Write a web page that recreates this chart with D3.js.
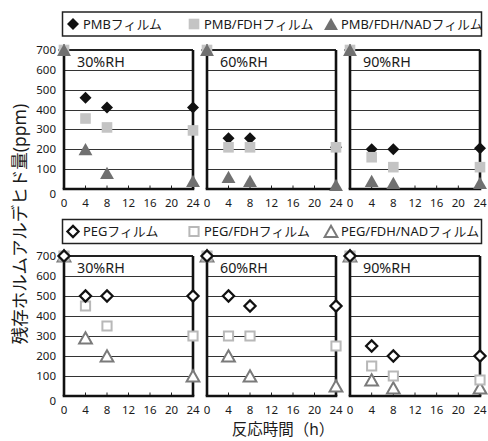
<!DOCTYPE html>
<html>
<head>
<meta charset="utf-8">
<script src="https://cdn.jsdelivr.net/npm/d3@7"></script>
<style>
  body { margin: 0; background: #fff; }
  svg text { font-family: "Noto Sans", "Noto Sans CJK JP", sans-serif; fill: #1a1a1a; }
</style>
</head>
<body>
<div id="svg-container"></div>
<script>
////////////////////////////  Data  ////////////////////////////////
const hours = [0, 4, 8, 24];
const humidities = ["30%RH", "60%RH", "90%RH"];
const xTicks = [0, 4, 8, 12, 16, 20, 24];
const yTicks = [0, 100, 200, 300, 400, 500, 600, 700];

// top group (PMB films), one array per humidity
const pmb = [[700, 460, 410, 410], [700, 255, 255, 210], [700, 200, 200, 205]];
const pmbFdh = [[700, 355, 310, 295], [700, 210, 210, 210], [700, 160, 110, 110]];
const pmbFdhNad = [[700, 200, 80, 40], [700, 60, 40, 20], [700, 40, 30, 30]];

// bottom group (PEG films)
const peg = [[700, 500, 500, 500], [700, 500, 450, 450], [700, 250, 200, 200]];
const pegFdh = [[700, 450, 350, 300], [700, 300, 300, 250], [700, 150, 100, 80]];
const pegFdhNad = [[700, 290, 200, 100], [700, 200, 100, 50], [700, 80, 40, 40]];

const topLegend = ["PMBフィルム", "PMB/FDHフィルム", "PMB/FDH/NADフィルム"];
const bottomLegend = ["PEGフィルム", "PEG/FDHフィルム", "PEG/FDH/NADフィルム"];

////////////////////////////  Init  ////////////////////////////////
const width = 488;
const height = 441;
const svg = d3.select("#svg-container").append("svg")
  .attr("width", width).attr("height", height);

const panelX = [[64, 193], [207, 336], [350, 480]];

// marker shapes
const shape = {
  diamond: (r) => `M0,${-r}L${r},0L0,${r}L${-r},0Z`,
  square: (r) => `M${-r},${-r}H${r}V${r}H${-r}Z`,
  triangle: (r) => `M0,${-r}L${r * 1.1},${r * 0.95}H${-r * 1.1}Z`
};

const topStyles = [
  { shape: "diamond", r: 6, fill: "#111", stroke: "none", sw: 0 },
  { shape: "square", r: 5.3, fill: "#c4c4c4", stroke: "none", sw: 0 },
  { shape: "triangle", r: 6.3, fill: "#707070", stroke: "none", sw: 0 }
];
const bottomStyles = [
  { shape: "diamond", r: 5.6, fill: "#fff", stroke: "#111", sw: 2.2 },
  { shape: "square", r: 4.6, fill: "#fff", stroke: "#b8b8b8", sw: 2 },
  { shape: "triangle", r: 5.8, fill: "#fff", stroke: "#7a7a7a", sw: 2 }
];

function marker(g, x, y, st) {
  g.append("path")
    .attr("transform", `translate(${x},${y})`)
    .attr("d", shape[st.shape](st.r))
    .attr("fill", st.fill)
    .attr("stroke", st.stroke)
    .attr("stroke-width", st.sw)
    .attr("stroke-linejoin", "miter");
}

function drawLegend(y, labels, styles) {
  const g = svg.append("g");
  g.append("rect")
    .attr("x", 62.5).attr("y", y - 12)
    .attr("width", 419).attr("height", 24)
    .attr("fill", "#fff").attr("stroke", "#222").attr("stroke-width", 1.5);
  const mx = [73, 194, 331];
  labels.forEach((lab, i) => {
    marker(g, mx[i], y, styles[i]);
    g.append("text")
      .attr("x", mx[i] + 10).attr("y", y + 4.5)
      .attr("font-size", 12.9)
      .text(lab);
  });
}

function drawGroup(y0, y700, series, styles) {
  const yScale = d3.scaleLinear().domain([0, 700]).range([y0, y700]);
  humidities.forEach((hum, p) => {
    const xScale = d3.scaleLinear().domain([0, 24]).range(panelX[p]);
    const g = svg.append("g");

    // gridlines (snapped to pixel)
    g.selectAll(".grid")
      .data(yTicks.filter((d) => d > 0 && d < 700))
      .join("line")
      .attr("x1", xScale(0)).attr("x2", xScale(24))
      .attr("y1", (d) => Math.round(yScale(d)) + 0.5)
      .attr("y2", (d) => Math.round(yScale(d)) + 0.5)
      .attr("stroke", "#333").attr("stroke-width", 1.1);

    // frame: top, right, then the heavier axes
    g.append("line")
      .attr("x1", xScale(0)).attr("x2", xScale(24))
      .attr("y1", yScale(700)).attr("y2", yScale(700))
      .attr("stroke", "#222").attr("stroke-width", 2);
    g.append("line")
      .attr("x1", xScale(24)).attr("x2", xScale(24))
      .attr("y1", yScale(700)).attr("y2", yScale(0))
      .attr("stroke", "#111").attr("stroke-width", 2.6);

    // x minor ticks (pointing inward)
    g.selectAll(".tick")
      .data(xTicks.filter((d) => d > 0 && d < 24))
      .join("line")
      .attr("x1", (d) => xScale(d)).attr("x2", (d) => xScale(d))
      .attr("y1", yScale(0)).attr("y2", yScale(0) - 3.5)
      .attr("stroke", "#222").attr("stroke-width", 1);

    g.append("line")
      .attr("x1", xScale(0)).attr("x2", xScale(0))
      .attr("y1", yScale(700) - 1).attr("y2", yScale(0))
      .attr("stroke", "#111").attr("stroke-width", 2.6);
    g.append("line")
      .attr("x1", xScale(0) - 1.3).attr("x2", xScale(24) + 1.3)
      .attr("y1", yScale(0)).attr("y2", yScale(0))
      .attr("stroke", "#111").attr("stroke-width", 2.6);

    // x tick labels
    g.selectAll(".xlab")
      .data(xTicks)
      .join("text")
      .attr("x", (d) => xScale(d)).attr("y", yScale(0) + 17.5)
      .attr("text-anchor", "middle")
      .attr("font-size", 11.5)
      .text((d) => d);

    // y tick labels only on first panel
    if (p === 0) {
      g.selectAll(".ylab")
        .data(yTicks)
        .join("text")
        .attr("x", 56).attr("y", (d) => yScale(d) + (d === 0 ? 8.5 : 4))
        .attr("text-anchor", "end")
        .attr("font-size", 11.5)
        .text((d) => d);
    }

    // humidity label
    g.append("text")
      .attr("x", xScale(0) + 13).attr("y", yScale(700) + 17)
      .attr("font-size", 14.3)
      .text(hum);

    // markers
    series.forEach((s, k) => {
      s[p].forEach((v, i) => marker(g, xScale(hours[i]), yScale(v), styles[k]));
    });
  });
}

drawLegend(24, topLegend, topStyles);
drawGroup(189, 50, [pmb, pmbFdh, pmbFdhNad], topStyles);

drawLegend(231.5, bottomLegend, bottomStyles);
drawGroup(396, 256, [pegFdhNad, pegFdh, peg], [bottomStyles[2], bottomStyles[1], bottomStyles[0]]);

// axis titles
svg.append("text")
  .attr("transform", "translate(26,224) rotate(-90)")
  .attr("text-anchor", "middle")
  .attr("font-size", 17.5)
  .text("残存ホルムアルデヒド量(ppm)");

svg.append("text")
  .attr("x", 283).attr("y", 435)
  .attr("text-anchor", "middle")
  .attr("font-size", 15.5)
  .text("反応時間（h）");
</script>
</body>
</html>
